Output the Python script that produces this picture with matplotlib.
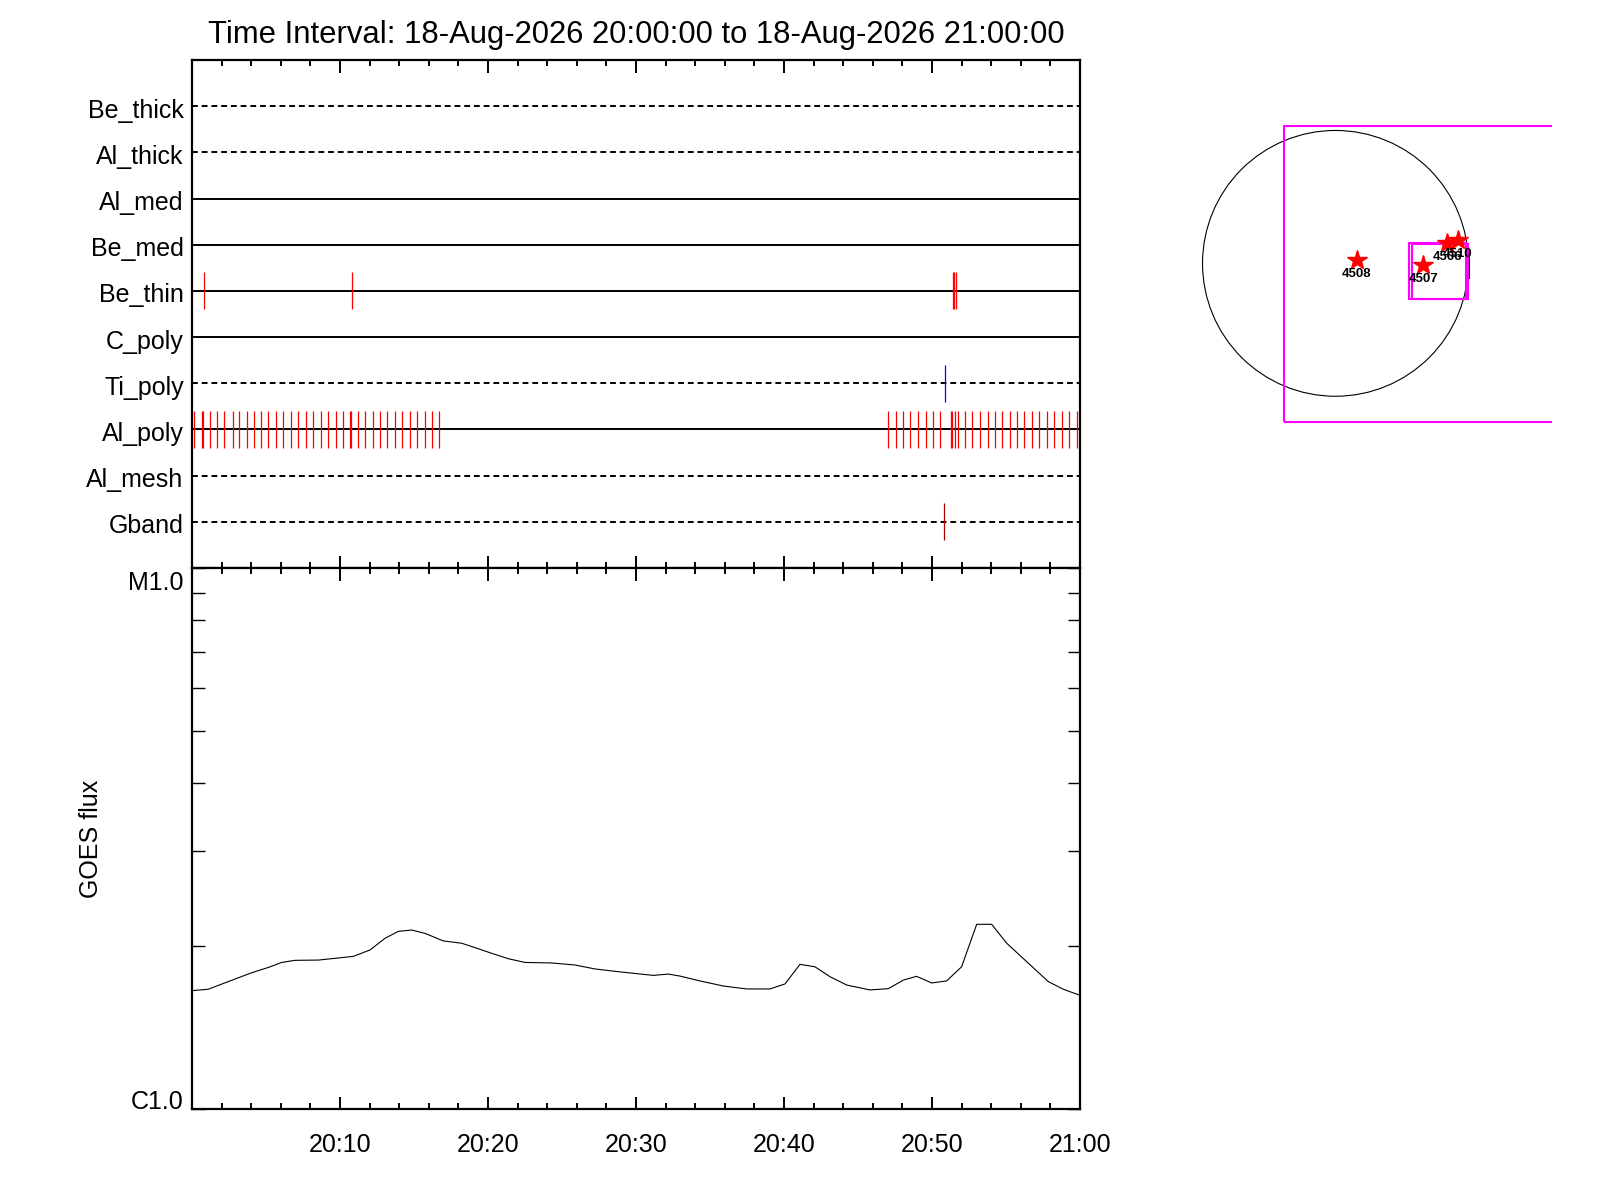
import numpy as np
import matplotlib
matplotlib.use("Agg")
import matplotlib.pyplot as plt
from matplotlib.patches import Circle, Rectangle
from matplotlib.transforms import ScaledTranslation

plt.rcParams['font.family'] = ['Liberation Sans', 'DejaVu Sans']

# detector rows, bottom to top
rows = ['Gband', 'Al_mesh', 'Al_poly', 'Ti_poly', 'C_poly',
        'Be_thin', 'Be_med', 'Al_med', 'Al_thick', 'Be_thick']
row_dashed = [True, True, False, True, False,
              False, False, False, True, True]

# exposure times, minutes after 20:00
al_poly_t = [0.16, 0.68, 0.74, 1.24, 1.71, 2.18, 2.79, 3.20, 3.70, 4.21,
             4.68, 5.16, 5.70, 6.17, 6.69, 7.18, 7.70, 8.18, 8.70, 9.21,
             9.73, 10.22, 10.68, 10.74, 11.24, 11.71, 12.21, 12.70, 13.20,
             13.70, 14.21, 14.73, 15.22, 15.72, 16.20, 16.71,
             47.05, 47.59, 48.06, 48.53, 49.07, 49.57, 50.09, 50.56, 51.27,
             51.35, 51.57, 51.78, 52.25, 52.72, 53.26, 53.78, 54.28, 54.75,
             55.29, 55.76, 56.24, 56.78, 57.25, 57.79, 58.26, 58.76, 59.28,
             59.78]
be_thin_t = [0.83, 10.83, 51.42, 51.47, 51.62]
ti_poly_t = [50.90]
gband_t = [50.83]

# GOES light curve
goes_t = [0.0, 1.10, 2.45, 4.03, 5.16, 6.06, 6.96, 8.54, 9.66, 10.90, 12.03,
          13.04, 13.94, 14.84, 15.74, 16.98, 18.22, 19.12, 20.25, 21.37,
          22.50, 24.30, 25.88, 27.23, 28.81, 30.49, 31.17, 32.18, 32.97,
          34.32, 35.90, 37.48, 39.05, 40.07, 41.08, 42.09, 43.11, 44.24,
          45.81, 47.05, 48.06, 48.96, 49.98, 50.99, 52.00, 53.02, 54.03,
          55.05, 56.40, 57.86, 58.87, 59.88]
goes_flux = [1.655e-6, 1.665e-6, 1.720e-6, 1.786e-6, 1.827e-6, 1.866e-6,
             1.883e-6, 1.885e-6, 1.899e-6, 1.915e-6, 1.968e-6, 2.068e-6,
             2.130e-6, 2.142e-6, 2.112e-6, 2.045e-6, 2.025e-6, 1.988e-6,
             1.940e-6, 1.896e-6, 1.866e-6, 1.862e-6, 1.846e-6, 1.815e-6,
             1.794e-6, 1.774e-6, 1.766e-6, 1.776e-6, 1.761e-6, 1.725e-6,
             1.688e-6, 1.667e-6, 1.667e-6, 1.703e-6, 1.851e-6, 1.832e-6,
             1.756e-6, 1.695e-6, 1.660e-6, 1.669e-6, 1.731e-6, 1.759e-6,
             1.710e-6, 1.725e-6, 1.832e-6, 2.195e-6, 2.195e-6, 2.025e-6,
             1.872e-6, 1.720e-6, 1.665e-6, 1.627e-6]

xtick_pos = [10, 20, 30, 40, 50, 60]
xtick_lab = ['20:10', '20:20', '20:30', '20:40', '20:50', '21:00']

# active regions on the disk (arcsec)
ar_num = ['4508', '4507', '4506', '4510']
ar_x = [153, 628, 800, 874]
ar_y = [24, -12, 143, 166]

FS = 18

fig = plt.figure(figsize=(16, 12), dpi=100)
L, R = 0.12, 0.675
ax1 = fig.add_axes([L, 0.5267, R - L, 0.95 - 0.5267])
ax2 = fig.add_axes([L, 0.0758, R - L, 0.5267 - 0.0758])

for ax in (ax1, ax2):
    ax.set_xlim(0, 60)
    ax.set_xticks(np.arange(0, 61, 10))
    ax.set_xticks(np.arange(0, 61, 2), minor=True)
    ax.tick_params(axis='x', which='both', direction='in', top=True, bottom=True, width=1.4)
    ax.tick_params(axis='x', which='major', length=9)
    ax.tick_params(axis='x', which='minor', length=4.5)
    for s in ax.spines.values():
        s.set_linewidth(1.6)

def shift_down(px):
    return ScaledTranslation(0, -px / 100, fig.dpi_scale_trans)

# upper panel
ax1.set_ylim(0, 11)
for i, (name, dashed) in enumerate(zip(rows, row_dashed)):
    ax1.axhline(i + 1, color='black', lw=1.4,
                linestyle=(0, (3, 2)) if dashed else '-')
ax1.set_yticks(np.arange(1, 11))
ax1.set_yticklabels(rows, fontsize=FS)
ax1.tick_params(axis='y', length=0, pad=6)
ax1.tick_params(axis='x', labelbottom=False)
for lab in ax1.get_yticklabels():
    lab.set_transform(lab.get_transform() + shift_down(2))

def row_y(name):
    return rows.index(name) + 1

ax1.vlines(al_poly_t, row_y('Al_poly') - 0.4, row_y('Al_poly') + 0.4, color='red', lw=0.9)
ax1.vlines(be_thin_t, row_y('Be_thin') - 0.4, row_y('Be_thin') + 0.4, color='red', lw=0.9)
ax1.vlines(ti_poly_t, row_y('Ti_poly') - 0.4, row_y('Ti_poly') + 0.4, color='blue', lw=0.9)
ax1.vlines(gband_t, row_y('Gband') - 0.4, row_y('Gband') + 0.4, color='#b00000', lw=0.9)

# lower panel
ax2.plot(goes_t, goes_flux, color='black', lw=0.8)
ax2.set_yscale('log')
ax2.set_ylim(1e-6, 1e-5)
ax2.set_yticks([1e-6, 1e-5])
ax2.set_yticklabels(['C1.0', 'M1.0'], fontsize=FS)
ax2.set_yticks(np.arange(2, 10) * 1e-6, minor=True)
ax2.yaxis.set_minor_formatter(matplotlib.ticker.NullFormatter())
ax2.tick_params(axis='y', which='both', direction='in', left=True, right=True,
                length=9, width=1.0, pad=6)
labs = ax2.get_yticklabels()
labs[0].set_va('baseline')
labs[1].set_va('top')
labs[1].set_transform(labs[1].get_transform() + shift_down(3))
ax2.set_xticks(xtick_pos)
ax2.set_xticklabels(xtick_lab, fontsize=FS)
ax2.tick_params(axis='x', which='major', pad=17)
ax2.set_ylabel('GOES flux', fontsize=FS, labelpad=18)

fig.text(0.398, 0.971, 'Time Interval: 18-Aug-2026 20:00:00 to 18-Aug-2026 21:00:00',
         ha='center', va='center', fontsize=22.3)

# solar disk panel
ax3 = fig.add_axes([0.725, 0.6333, 0.245, 0.275])
ax3.set_xlim(-1254, 1548)
ax3.set_ylim(-1263, 1096)
ax3.axis('off')
ax3.add_patch(Circle((0, 0), 950, fill=False, edgecolor='black', lw=0.8))
ax3.add_patch(Rectangle((-366, -1135), 2600, 2115, fill=False, edgecolor='magenta', lw=1.5))
ax3.add_patch(Rectangle((528, -257), 405, 400, fill=False, edgecolor='magenta', lw=1.5))
ax3.add_patch(Rectangle((548, -257), 401, 393, fill=False, edgecolor='magenta', lw=1.5))
ax3.plot([955, 955], [-105, 95], color='black', lw=0.8)
ax3.plot(ar_x, ar_y, linestyle='none', marker='*', color='red', markersize=15)
for n, x, y in zip(ar_num, ar_x, ar_y):
    ax3.text(x, y - 100, n, ha='center', va='center', fontsize=9.5, fontweight='bold')

fig.savefig('out.png', dpi=100)
